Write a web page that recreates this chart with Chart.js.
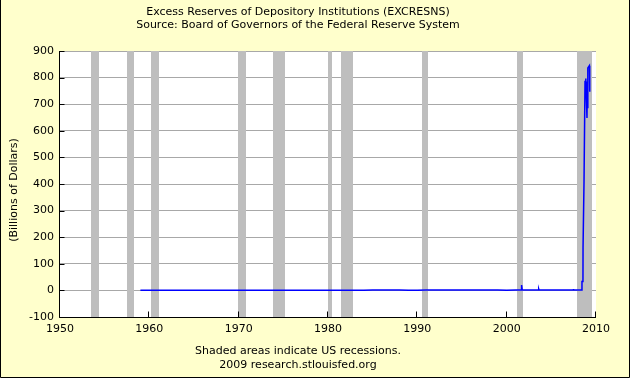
<!DOCTYPE html>
<html><head><meta charset="utf-8">
<script src="https://cdn.jsdelivr.net/npm/chart.js@4/dist/chart.umd.min.js"></script>
<style>html,body{margin:0;padding:0;background:#FFFFCC;}canvas{display:block;}</style>
</head><body>
<canvas id="c" width="630" height="378"></canvas>
<script>
const titleLines = ['Excess Reserves of Depository Institutions (EXCRESNS)', 'Source: Board of Governors of the Federal Reserve System'];
const footerLines = ['Shaded areas indicate US recessions.', '2009 research.stlouisfed.org'];
const yAxisTitle = '(Billions of Dollars)';
const xTickLabels = ['1950', '1960', '1970', '1980', '1990', '2000', '2010'];
const yTickValues = [-100, 0, 100, 200, 300, 400, 500, 600, 700, 800, 900];

const recessionStarts = [1953.45, 1957.55, 1960.2, 1969.88, 1973.8, 1979.95, 1981.45, 1990.47, 2001.12, 2007.85];
const recessionEnds   = [1954.37, 1958.32, 1961.1, 1970.87, 1975.22, 1980.5, 1982.85, 1991.2, 2001.85, 2009.53];

const dates = [1959, 1960, 1961, 1962, 1963, 1964, 1965, 1966, 1967, 1968, 1969,
  1970, 1971, 1972, 1973, 1974, 1975, 1976, 1977, 1978, 1979,
  1980, 1981, 1982, 1983, 1984, 1985, 1986, 1987, 1988, 1989,
  1990, 1991, 1992, 1993, 1994, 1995, 1996, 1997, 1998, 1999,
  2000, 2001, 2001.62, 2001.645, 2001.67, 2001.70, 2001.74, 2002, 2003, 2003.56, 2003.59, 2003.62,
  2004, 2005, 2006, 2007, 2007.44, 2007.47, 2007.50, 2008, 2008.40,
  2008.43, 2008.54, 2008.55, 2008.65, 2008.66, 2008.76, 2008.77, 2008.86, 2008.92, 2008.99,
  2009.03, 2009.07, 2009.10, 2009.18, 2009.26, 2009.30];
const values = [0.5, 0.7, 0.6, 0.5, 0.4, 0.4, 0.4, 0.4, 0.4, 0.3, 0.3,
  0.2, 0.3, 0.2, 0.2, 0.3, 0.2, 0.3, 0.3, 0.2, 0.5,
  0.5, 0.4, 0.5, 0.7, 1.0, 1.3, 1.4, 1.2, 1.1, 1.0,
  1.0, 1.1, 1.5, 1.1, 1.2, 1.1, 1.2, 1.2, 1.4, 1.3,
  1.0, 1.4, 1.2, 12, 2, 20, 1.5, 1.5, 1.6, 1.5, 5, 1.6,
  1.6, 1.7, 1.7, 1.6, 1.6, 5, 1.7, 1.8, 1.9,
  33, 33, 163, 163, 411, 411, 785, 797, 723, 648,
  785, 685, 836, 841, 845, 747];

const FONT = '"DejaVu Sans", Verdana, sans-serif';

const decor = {
  id: 'decor',
  beforeDraw(chart) {
    const {ctx, chartArea: a} = chart;
    ctx.save();
    ctx.fillStyle = '#FFFFCC';
    ctx.fillRect(0, 0, chart.width, chart.height);
    ctx.fillStyle = '#FFFFFF';
    ctx.fillRect(a.left, a.top, a.right - a.left, a.bottom - a.top);
    ctx.restore();
  },
  beforeDatasetsDraw(chart) {
    const {ctx, chartArea: a, scales: {x}} = chart;
    ctx.save();
    ctx.fillStyle = '#BEBEBE';
    recessionStarts.forEach((s, i) => {
      const x0 = Math.round(x.getPixelForValue(s));
      const x1 = Math.round(x.getPixelForValue(recessionEnds[i]));
      ctx.fillRect(x0, a.top, x1 - x0, a.bottom - a.top);
    });
    ctx.restore();
  },
  afterDatasetsDraw(chart) {
    const {ctx, chartArea: a, scales: {x, y}} = chart;
    ctx.save();
    ctx.strokeStyle = '#000';
    ctx.lineWidth = 1;
    const L = Math.floor(a.left) - 0.5, B = Math.floor(a.bottom) + 0.5;
    ctx.beginPath();
    ctx.moveTo(L, Math.floor(a.top));
    ctx.lineTo(L, B);
    ctx.lineTo(Math.ceil(a.right), B);
    xTickLabels.forEach(t => {
      const px = Math.round(x.getPixelForValue(+t)) - 0.5;
      ctx.moveTo(px, B); ctx.lineTo(px, B - 6);
    });
    yTickValues.forEach(v => {
      const py = Math.round(y.getPixelForValue(v)) + 0.5;
      ctx.moveTo(L, py); ctx.lineTo(L + 5, py);
    });
    ctx.stroke();
    // outer frame
    ctx.beginPath();
    ctx.moveTo(0.5, 0); ctx.lineTo(0.5, chart.height - 0.5);
    ctx.lineTo(chart.width - 0.5, chart.height - 0.5);
    ctx.lineTo(chart.width - 0.5, 0);
    ctx.stroke();
    // y axis title
    ctx.fillStyle = '#000';
    ctx.font = '11px ' + FONT;
    ctx.textAlign = 'center';
    ctx.textBaseline = 'middle';
    ctx.translate(14, 190);
    ctx.rotate(-Math.PI / 2);
    ctx.fillText(yAxisTitle, 0, 0);
    ctx.restore();
  }
};

new Chart(document.getElementById('c'), {
  type: 'line',
  data: {
    datasets: [{
      data: dates.map((d, i) => ({x: d, y: values[i]})),
      borderColor: '#0000FF',
      borderWidth: 1.5,
      pointRadius: 0,
      tension: 0,
      fill: false
    }]
  },
  options: {
    responsive: false,
    animation: false,
    devicePixelRatio: 1,
    layout: {padding: {left: 0, right: 34, top: 0, bottom: 0}},
    plugins: {
      legend: {display: false},
      tooltip: {enabled: false},
      title: {
        display: true, text: titleLines, color: '#000',
        font: {family: FONT, size: 11, weight: 'normal', lineHeight: '13px'},
        padding: {top: 5.5, bottom: 19.5}
      },
      subtitle: {
        display: true, position: 'bottom', text: footerLines, color: '#000',
        font: {family: FONT, size: 11, weight: 'normal', lineHeight: '14px'},
        padding: {top: 0, bottom: 6}
      }
    },
    scales: {
      x: {
        type: 'linear', min: 1950, max: 2010,
        afterBuildTicks: s => { s.ticks = xTickLabels.map(t => ({value: +t})); },
        afterFit: s => { s.height = 27; },
        ticks: {callback: v => String(v), color: '#000', font: {family: FONT, size: 11}, padding: 6, maxRotation: 0, autoSkip: false},
        grid: {display: false, drawTicks: false},
        border: {display: false}
      },
      y: {
        type: 'linear', min: -100, max: 900,
        afterBuildTicks: s => { s.ticks = yTickValues.map(v => ({value: v})); },
        afterFit: s => { s.width = 60; },
        ticks: {callback: v => String(v), color: '#000', font: {family: FONT, size: 11}, padding: 6, autoSkip: false},
        grid: {color: '#A8A8A8', lineWidth: 1, drawTicks: false},
        border: {display: false}
      }
    }
  },
  plugins: [decor]
});
</script>
</body></html>
